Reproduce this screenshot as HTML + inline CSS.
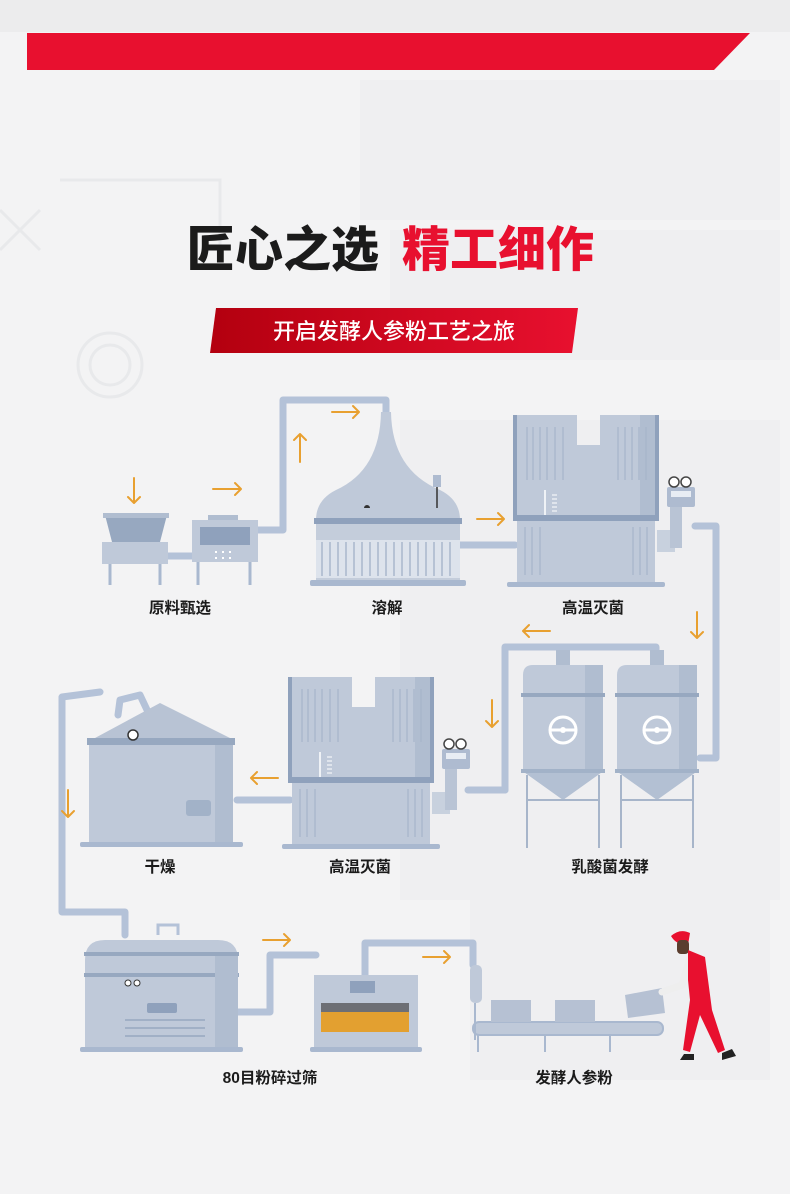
<!DOCTYPE html>
<html><head><meta charset="utf-8"><style>
html,body{margin:0;padding:0;}
body{width:790px;height:1194px;overflow:hidden;background:#f3f3f4;font-family:"Liberation Sans","Noto Sans CJK SC",sans-serif;}
</style></head><body>
<svg width="790" height="1194" viewBox="0 0 790 1194" xmlns="http://www.w3.org/2000/svg" style="display:block">
<defs>
<linearGradient id="rg" x1="0" x2="1" y1="0" y2="0"><stop offset="0" stop-color="#b3000f"/><stop offset="1" stop-color="#e8102f"/></linearGradient>
<g id="tank">
 <path d="M0 0H62V30H85V0H142V105H0Z" fill="#bfc9d9"/>
 <rect x="125" y="0" width="17" height="105" fill="#b0bdd0"/>
 <rect x="-2" y="0" width="4" height="105" fill="#8fa1bc"/>
 <rect x="140" y="0" width="4" height="105" fill="#8fa1bc"/>
 <g stroke="#a7b5ca" stroke-width="1.2"><path d="M12 12V65M18 12V65M25 12V65M32 12V65M40 12V65M48 12V65M103 12V65M110 12V65M117 12V65M124 12V65M131 12V65"/></g>
 <rect x="-2" y="100" width="146" height="6" fill="#8fa1bc"/>
 <rect x="2" y="106" width="138" height="61" fill="#bfc9d9"/>
 <g stroke="#a7b5ca" stroke-width="1.2"><path d="M10 112V160M17 112V160M25 112V160M118 112V160M125 112V160M132 112V160"/></g>
 <rect x="-8" y="167" width="158" height="5" rx="2" fill="#a9b8cf"/>
 <path d="M30 75V100" stroke="#fff" stroke-width="1.5"/><circle cx="30" cy="103" r="3" fill="#8fa1bc"/>
 <g stroke="#fff" stroke-width="1"><path d="M37 80h5M37 84h5M37 88h5M37 92h5M37 96h5"/></g>
 <rect x="142" y="115" width="18" height="22" fill="#c8d1de"/>
 <path d="M155 88h12v45h-12z" fill="#b9c4d5"/>
 <rect x="152" y="72" width="28" height="20" rx="2" fill="#aebbd0"/>
 <rect x="156" y="76" width="20" height="6" fill="#e8edf4"/>
 <circle cx="159" cy="67" r="5" fill="#fff" stroke="#444" stroke-width="1.5"/>
 <circle cx="171" cy="67" r="5" fill="#fff" stroke="#444" stroke-width="1.5"/>
</g>
<g id="ferm">
 <path d="M0 10Q0 0 10 0H70Q80 0 80 10V105H0Z" fill="#bfc9d9"/>
 <rect x="62" y="0" width="18" height="105" fill="#b0bdd0"/>
 <rect x="-2" y="28" width="84" height="4" fill="#97a8c0"/>
 <path d="M-2 105H82L40 135Z" fill="#b3c0d3"/>
 <rect x="-2" y="104" width="84" height="4" fill="#a2b2c8"/>
 <circle cx="40" cy="65" r="13" fill="none" stroke="#fff" stroke-width="3"/>
 <path d="M28 65H52" stroke="#fff" stroke-width="3"/><circle cx="40" cy="65" r="3" fill="#fff"/>
 <g stroke="#a7b5ca" stroke-width="2"><path d="M4 110V183M76 110V183M4 135H76"/></g>
 <rect x="33" y="-15" width="14" height="15" fill="#b0bdd0"/>
</g>
</defs>
<rect x="0" y="0" width="790" height="32" fill="#ececed"/>
<g fill="#efeff1">
 <rect x="360" y="80" width="420" height="140"/><rect x="390" y="230" width="390" height="130"/>
 <rect x="400" y="420" width="380" height="480"/><rect x="470" y="900" width="300" height="180"/>
</g>
<g fill="none" stroke="#e8e9eb" stroke-width="3">
 <circle cx="110" cy="365" r="32"/><circle cx="110" cy="365" r="20"/>
 <path d="M60 180H220V260M0 210L40 250M40 210L0 250"/>
</g>
<polygon points="27,33 750,33 714,70 27,70" fill="#e8102f"/>
<text x="187" y="266" font-size="48" font-weight="900" fill="#1b1b1b">匠心之选</text>
<text x="402" y="266" font-size="48" font-weight="900" fill="#e8102f">精工细作</text>
<polygon points="216,308 578,308 572,353 210,353" fill="url(#rg)"/>
<text x="394" y="339" font-size="22" fill="#fff" text-anchor="middle" font-weight="500">开启发酵人参粉工艺之旅</text>

<g fill="none" stroke="#b4c2d8" stroke-width="7" stroke-linejoin="round" stroke-linecap="round">
 <path d="M257 530H283V400H386V412"/>
 <path d="M460 545H515"/>
 <path d="M695 526H716V758H700"/>
 <path d="M505 790V647H656V660M562 647V660"/>
 <path d="M468 790H505"/>
 <path d="M237 800H290"/>
 <path d="M100 692L62 697V912H125V935"/>
 <path d="M118 715L120 700L140 695L148 712"/>
 <path d="M238 1012H270V955H316"/>
 <path d="M365 975V943H473V965"/>
 <path d="M167 556H192"/>
</g>
<path d="M105 515H167L160 542H112Z" fill="#97a8c0"/>
<rect x="103" y="513" width="66" height="5" fill="#b0bdd0"/>
<rect x="102" y="542" width="66" height="22" fill="#bfc9d9"/>
<g stroke="#a9b8cf" stroke-width="3"><path d="M110 564V585M160 564V585M198 562V585M250 562V585"/></g>
<rect x="192" y="520" width="66" height="42" fill="#bfc9d9"/>
<rect x="208" y="515" width="30" height="5" fill="#b0bdd0"/>
<rect x="200" y="527" width="50" height="18" fill="#8fa1bc"/>
<g fill="#fff"><rect x="215" y="551" width="2" height="2"/><rect x="222" y="551" width="2" height="2"/><rect x="229" y="551" width="2" height="2"/><rect x="215" y="557" width="2" height="2"/><rect x="222" y="557" width="2" height="2"/><rect x="229" y="557" width="2" height="2"/></g>
<path d="M381 412H391Q392 470 440 490Q460 500 460 520H316Q316 500 336 490Q380 470 381 412Z" fill="#bfc9d9"/>
<rect x="314" y="518" width="148" height="6" fill="#8fa1bc"/>
<rect x="316" y="524" width="144" height="56" fill="#c4cddb"/>
<rect x="316" y="540" width="144" height="38" fill="#dde3ec"/>
<g stroke="#aab7cb" stroke-width="1.5"><path d="M322 542V576M330 542V576M338 542V576M346 542V576M354 542V576M362 542V576M370 542V576M378 542V576M386 542V576M394 542V576M402 542V576M410 542V576M418 542V576M426 542V576M434 542V576M442 542V576M450 542V576"/></g>
<rect x="310" y="580" width="156" height="6" rx="2" fill="#a9b8cf"/>
<path d="M364 508a3 3 0 0 1 6 0z" fill="#333"/>
<path d="M437 485V508" stroke="#333" stroke-width="1.5"/><rect x="433" y="475" width="8" height="12" fill="#aebbd0"/>
<use href="#tank" x="515" y="415"/>
<use href="#tank" x="290" y="677"/>
<use href="#ferm" x="523" y="665"/>
<use href="#ferm" x="617" y="665"/>
<path d="M95 738L160 703L230 738Z" fill="#b8c3d4"/>
<rect x="87" y="738" width="148" height="7" fill="#97a8c0"/>
<rect x="89" y="745" width="144" height="98" fill="#bfc9d9"/>
<rect x="215" y="745" width="18" height="98" fill="#b0bdd0"/>
<rect x="186" y="800" width="25" height="16" rx="3" fill="#a2b2c8"/>
<circle cx="133" cy="735" r="5" fill="#fff" stroke="#333" stroke-width="1.5"/>
<rect x="80" y="842" width="163" height="5" rx="2" fill="#a9b8cf"/>
<path d="M85 960Q85 940 105 940H218Q238 940 238 960V1048H85Z" fill="#bfc9d9"/>
<rect x="84" y="952" width="155" height="4" fill="#97a8c0"/>
<rect x="84" y="973" width="155" height="4" fill="#97a8c0"/>
<rect x="215" y="956" width="23" height="92" fill="#b0bdd0"/>
<rect x="147" y="1003" width="30" height="10" rx="2" fill="#8fa1bc"/>
<g stroke="#97a8c0" stroke-width="1.5"><path d="M125 1020H205M125 1028H205M125 1036H205"/></g>
<circle cx="128" cy="983" r="3" fill="#fff" stroke="#333"/><circle cx="137" cy="983" r="3" fill="#fff" stroke="#333"/>
<path d="M158 935V925H178V935" fill="none" stroke="#b4c2d8" stroke-width="3"/>
<rect x="80" y="1047" width="163" height="5" rx="2" fill="#a9b8cf"/>
<rect x="314" y="975" width="104" height="73" fill="#bfc9d9"/>
<rect x="321" y="1003" width="88" height="29" fill="#e3a030"/>
<rect x="321" y="1003" width="88" height="9" fill="#6d6f75"/>
<rect x="350" y="981" width="25" height="12" fill="#8fa1bc"/>
<rect x="310" y="1047" width="112" height="5" rx="2" fill="#a9b8cf"/>
<rect x="470" y="965" width="12" height="38" rx="5" fill="#bfc9d9"/>
<rect x="473" y="1022" width="190" height="13" rx="6" fill="#bfc9d9" stroke="#a9b8cf" stroke-width="2"/>
<g stroke="#a9b8cf" stroke-width="2"><path d="M478 1035V1052M545 1035V1052M610 1035V1052M475 1003V1040"/></g>
<rect x="491" y="1000" width="40" height="22" fill="#b6c1d3"/>
<rect x="555" y="1000" width="40" height="22" fill="#b6c1d3"/>
<path d="M625 995L662 988L665 1013L628 1018Z" fill="#b6c1d3"/>
<path d="M671 936Q680 928 690 933L688 945Q676 945 671 936Z" fill="#e8102f"/>
<rect x="677" y="940" width="12" height="14" rx="4" fill="#5a3d2e"/>
<path d="M690 958L682 985L662 992" stroke="#eeeeee" stroke-width="7" fill="none" stroke-linecap="round"/>
<path d="M688 950L705 957L712 1010L725 1050L718 1053L700 1015L690 1052L683 1050L690 1000L688 980Z" fill="#e8102f"/>
<path d="M680 1060h14v-6h-10z" fill="#222"/><path d="M722 1060l14-4l-4-7l-10 4z" fill="#222"/>
<g fill="none" stroke="#e8a030" stroke-width="2" stroke-linecap="round" stroke-linejoin="round">
 <path d="M134 478V503M128 497L134 503L140 497"/>
 <path d="M213 489H241M235 483L241 489L235 495"/>
 <path d="M300 462V434M294 440L300 434L306 440"/>
 <path d="M332 412H359M353 406L359 412L353 418"/>
 <path d="M477 519H504M498 513L504 519L498 525"/>
 <path d="M697 612V638M691 632L697 638L703 632"/>
 <path d="M550 631H523M529 625L523 631L529 637"/>
 <path d="M492 700V727M486 721L492 727L498 721"/>
 <path d="M278 778H251M257 772L251 778L257 784"/>
 <path d="M68 790V817M62 811L68 817L74 811"/>
 <path d="M263 940H290M284 934L290 940L284 946"/>
 <path d="M423 957H450M444 951L450 957L444 963"/>
</g>
<g font-size="15.5" font-weight="bold" fill="#1b1b1b" text-anchor="middle">
 <text x="180" y="613">原料甄选</text>
 <text x="387" y="613">溶解</text>
 <text x="593" y="613">高温灭菌</text>
 <text x="160" y="872">干燥</text>
 <text x="360" y="872">高温灭菌</text>
 <text x="610" y="872">乳酸菌发酵</text>
 <text x="270" y="1083">80目粉碎过筛</text>
 <text x="574" y="1083">发酵人参粉</text>
</g>
</svg>
</body></html>
